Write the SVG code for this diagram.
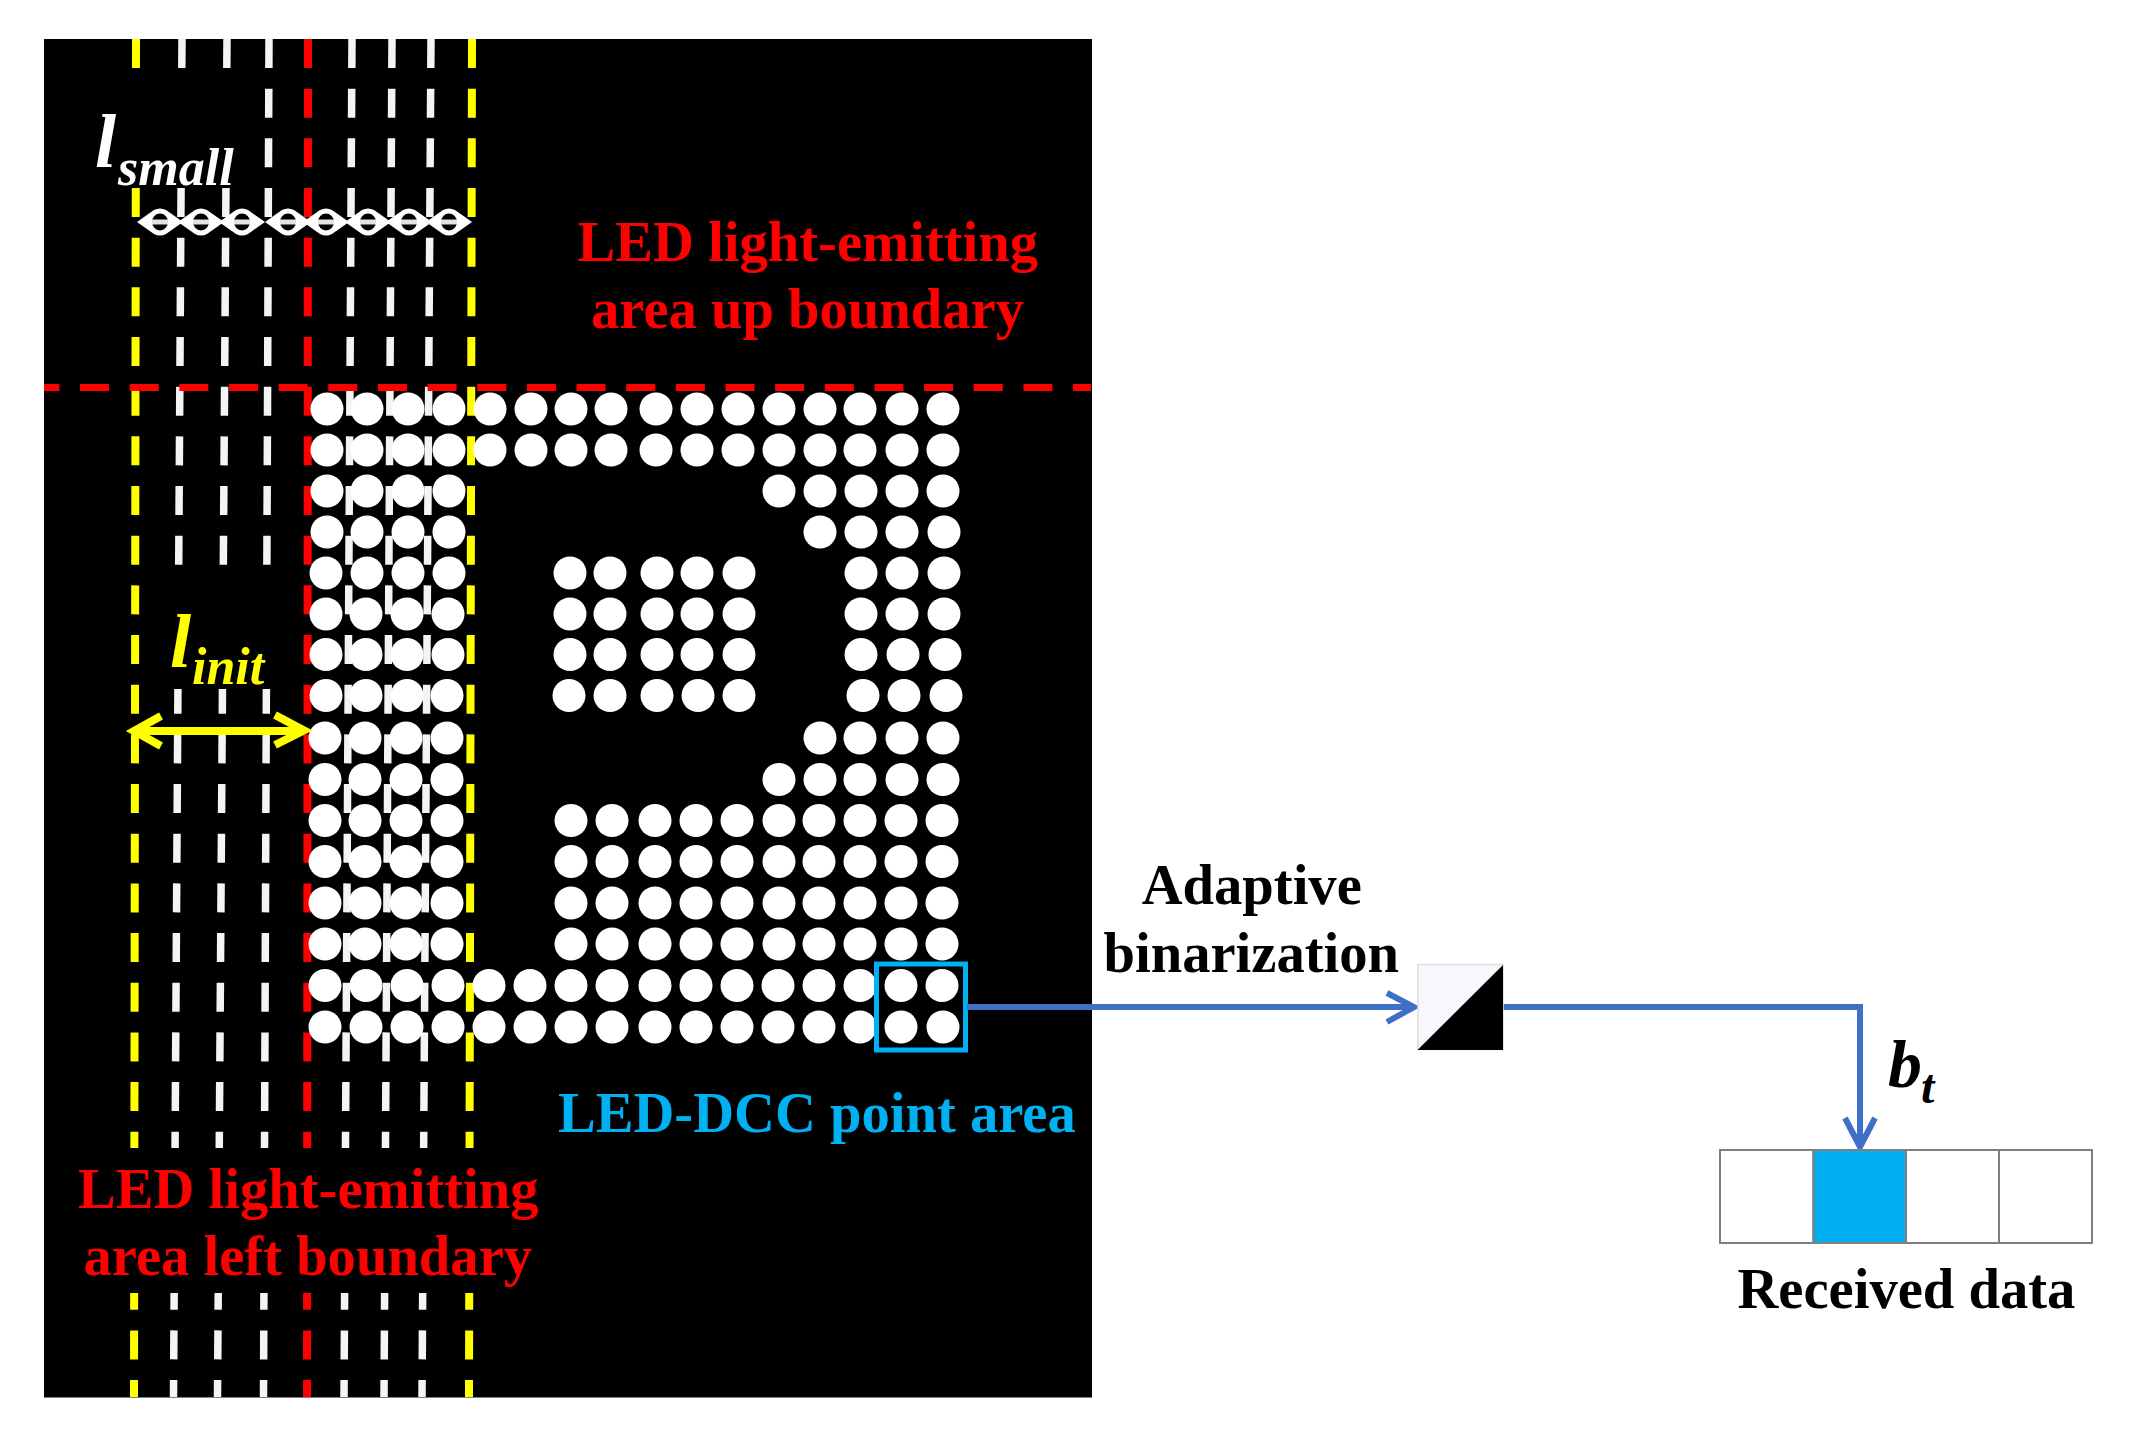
<svg xmlns="http://www.w3.org/2000/svg" width="2131" height="1444" viewBox="0 0 2131 1444">
<style>
.dots circle{r:16.5px;fill:#fff}
.dash{fill:none;stroke-dasharray:29 20.67}
.y{stroke:#ff0;stroke-width:8}
.r{stroke:#f00;stroke-width:8}
.w{stroke:#f4f4f4;stroke-width:7.5}
.t{font-family:"Liberation Serif","Times New Roman",serif;font-weight:bold;font-size:56.6px}
.i{font-style:italic}
.conn{fill:none;stroke:#3f6fc6;stroke-width:6}
.cell{fill:#fff;stroke:#7f7f7f;stroke-width:2}
</style>
<defs>
<g id="dbl">
<path d="M-23 0L-6 -12Q0 -15 6 -12L23 0L6 12Q0 15 -6 12Z" fill="#fff"/>
<ellipse rx="8" ry="8.5" fill="#000"/>
<rect x="-8" y="-2.5" width="16" height="5" fill="#e4e4e4"/>
</g>
</defs>
<rect width="2131" height="1444" fill="#fff"/>
<g id="image-panel">
<rect x="44" y="39" width="1048" height="1358.500" fill="#000"/>
<g id="grid-lines">
<path class="dash y" d="M136 39L134 1397"/>
<path class="dash w" d="M182 39L173.5 1397"/>
<path class="dash w" d="M227 39L217.5 1397"/>
<path class="dash w" d="M269 39L263.5 1397"/>
<path class="dash w" d="M352 39L344 1397"/>
<path class="dash w" d="M392 39L384 1397"/>
<path class="dash w" d="M431 39L422 1397"/>
<path class="dash r" d="M308 39L307 1397"/>
<path class="dash y" d="M472 39L469 1397"/>
<path d="M44 387.5H1091" fill="none" stroke="#f00" stroke-width="7" stroke-dasharray="29 20.65" stroke-dashoffset="13.6"/>
</g>
<rect x="120" y="72" width="130" height="116" fill="#000"/>
<rect x="150" y="575" width="146" height="114" fill="#000"/>
<rect x="60" y="1148" width="500" height="145" fill="#000"/>
<g id="led-dots" class="dots">
<g transform="translate(0,409)"><circle cx="327"/><circle cx="367"/><circle cx="408"/><circle cx="449"/><circle cx="490"/><circle cx="531"/><circle cx="571"/><circle cx="611"/><circle cx="656"/><circle cx="697"/><circle cx="738"/><circle cx="779"/><circle cx="820"/><circle cx="860"/><circle cx="902"/><circle cx="943"/></g>
<g transform="translate(0,450)"><circle cx="327"/><circle cx="367"/><circle cx="408"/><circle cx="449"/><circle cx="490"/><circle cx="531"/><circle cx="571"/><circle cx="611"/><circle cx="656"/><circle cx="697"/><circle cx="738"/><circle cx="779"/><circle cx="820"/><circle cx="860"/><circle cx="902"/><circle cx="943"/></g>
<g transform="translate(0,491)"><circle cx="327"/><circle cx="367"/><circle cx="408"/><circle cx="449"/><circle cx="779"/><circle cx="820"/><circle cx="861"/><circle cx="902"/><circle cx="943"/></g>
<g transform="translate(0,532)"><circle cx="327"/><circle cx="367"/><circle cx="408"/><circle cx="449"/><circle cx="820"/><circle cx="861"/><circle cx="902"/><circle cx="944"/></g>
<g transform="translate(0,573)"><circle cx="326"/><circle cx="367"/><circle cx="408"/><circle cx="449"/><circle cx="570"/><circle cx="610"/><circle cx="657"/><circle cx="697"/><circle cx="739"/><circle cx="861"/><circle cx="902"/><circle cx="944"/></g>
<g transform="translate(0,614)"><circle cx="326"/><circle cx="366"/><circle cx="407"/><circle cx="448"/><circle cx="570"/><circle cx="610"/><circle cx="657"/><circle cx="697"/><circle cx="739"/><circle cx="861"/><circle cx="902"/><circle cx="944"/></g>
<g transform="translate(0,654.500)"><circle cx="326"/><circle cx="366"/><circle cx="407"/><circle cx="448"/><circle cx="570"/><circle cx="610"/><circle cx="657"/><circle cx="697"/><circle cx="739"/><circle cx="861"/><circle cx="903"/><circle cx="945"/></g>
<g transform="translate(0,695.500)"><circle cx="326"/><circle cx="366"/><circle cx="407"/><circle cx="447"/><circle cx="569"/><circle cx="610"/><circle cx="657"/><circle cx="698"/><circle cx="739"/><circle cx="863"/><circle cx="904"/><circle cx="946"/></g>
<g transform="translate(0,738)"><circle cx="325"/><circle cx="365"/><circle cx="406"/><circle cx="447"/><circle cx="820"/><circle cx="860"/><circle cx="902"/><circle cx="943"/></g>
<g transform="translate(0,779.500)"><circle cx="325"/><circle cx="365"/><circle cx="406"/><circle cx="447"/><circle cx="779"/><circle cx="820"/><circle cx="860"/><circle cx="902"/><circle cx="943"/></g>
<g transform="translate(0,820.500)"><circle cx="325"/><circle cx="365"/><circle cx="406"/><circle cx="447"/><circle cx="571"/><circle cx="612"/><circle cx="655"/><circle cx="696"/><circle cx="737"/><circle cx="779"/><circle cx="819"/><circle cx="860"/><circle cx="901"/><circle cx="942"/></g>
<g transform="translate(0,861.500)"><circle cx="325"/><circle cx="365"/><circle cx="406"/><circle cx="447"/><circle cx="571"/><circle cx="612"/><circle cx="655"/><circle cx="696"/><circle cx="737"/><circle cx="779"/><circle cx="819"/><circle cx="860"/><circle cx="901"/><circle cx="942"/></g>
<g transform="translate(0,903)"><circle cx="325"/><circle cx="365"/><circle cx="406"/><circle cx="447"/><circle cx="571"/><circle cx="612"/><circle cx="655"/><circle cx="696"/><circle cx="737"/><circle cx="779"/><circle cx="819"/><circle cx="860"/><circle cx="901"/><circle cx="942"/></g>
<g transform="translate(0,944)"><circle cx="325"/><circle cx="365"/><circle cx="406"/><circle cx="447"/><circle cx="571"/><circle cx="612"/><circle cx="655"/><circle cx="696"/><circle cx="737"/><circle cx="779"/><circle cx="819"/><circle cx="860"/><circle cx="901"/><circle cx="942"/></g>
<g transform="translate(0,985.500)"><circle cx="325"/><circle cx="366"/><circle cx="407"/><circle cx="448"/><circle cx="489"/><circle cx="530"/><circle cx="571"/><circle cx="612"/><circle cx="655"/><circle cx="696"/><circle cx="737"/><circle cx="778"/><circle cx="819"/><circle cx="860"/><circle cx="901"/><circle cx="942"/></g>
<g transform="translate(0,1027)"><circle cx="325"/><circle cx="366"/><circle cx="407"/><circle cx="448"/><circle cx="489"/><circle cx="530"/><circle cx="571"/><circle cx="612"/><circle cx="655"/><circle cx="696"/><circle cx="737"/><circle cx="778"/><circle cx="819"/><circle cx="860"/><circle cx="901"/><circle cx="943"/></g>
</g>
<rect id="dcc-point-area" x="876.5" y="964" width="89" height="86" fill="none" stroke="#00b0f0" stroke-width="5"/>
<g id="l-small-arrows">
<use href="#dbl" x="160" y="222"/><use href="#dbl" x="201" y="222"/><use href="#dbl" x="242" y="222"/><use href="#dbl" x="288" y="222"/><use href="#dbl" x="326" y="222"/><use href="#dbl" x="368" y="222"/><use href="#dbl" x="409" y="222"/><use href="#dbl" x="449" y="222"/>
</g>
<path id="l-init-arrow" d="M161 716L134 731L161 746M134 731H304M275 715L304 730.5L275 745" fill="none" stroke="#ff0" stroke-width="8"/>
<text class="t i" fill="#fff" style="font-size:76px" x="95" y="167">l</text>
<text class="t i" fill="#fff" style="font-size:52px" x="118" y="185">small</text>
<text class="t i" fill="#ff0" style="font-size:76px" x="170" y="667">l</text>
<text class="t i" fill="#ff0" style="font-size:52px" x="192" y="684">init</text>
<text class="t" fill="#f00" x="577.500" y="260.500">LED light-emitting</text>
<text class="t" fill="#f00" x="591" y="328">area up boundary</text>
<text class="t" fill="#f00" x="78" y="1208">LED light-emitting</text>
<text class="t" fill="#f00" x="83.500" y="1275">area left boundary</text>
<text class="t" fill="#00b0f0" x="558" y="1131.500">LED-DCC point area</text>
</g>
<g id="connectors">
<path class="conn" d="M967 1007H1413"/>
<path class="conn" d="M1387 993L1414 1007L1387 1022" stroke-width="5"/>
<path class="conn" d="M1503 1007H1860V1146"/>
<path class="conn" d="M1845 1118L1860 1147L1875 1118" stroke-width="5"/>
</g>
<g id="binarizer">
<rect x="1418" y="964.500" width="85" height="85" fill="#f8f8fc" stroke="#ddd" stroke-width="1.5"/>
<path d="M1503 965V1050H1417.500Z" fill="#000"/>
</g>
<text id="adaptive-label" class="t" fill="#000"><tspan x="1141.700" y="903.500">Adaptive</tspan><tspan x="1103.500" y="971.500">binarization</tspan></text>
<text id="bt-label" class="t i" fill="#000" style="font-size:68px" x="1888" y="1087">b<tspan style="font-size:48px" dx="-1" dy="16">t</tspan></text>
<g id="received-data">
<rect class="cell" x="1720" y="1150" width="93.500" height="93"/>
<rect class="cell" x="1813.500" y="1150" width="92.500" height="93" style="fill:#00b0f0"/>
<rect class="cell" x="1906" y="1150" width="93" height="93"/>
<rect class="cell" x="1999" y="1150" width="93" height="93"/>
<text class="t" fill="#000" x="1737.500" y="1308">Received data</text>
</g>
</svg>
